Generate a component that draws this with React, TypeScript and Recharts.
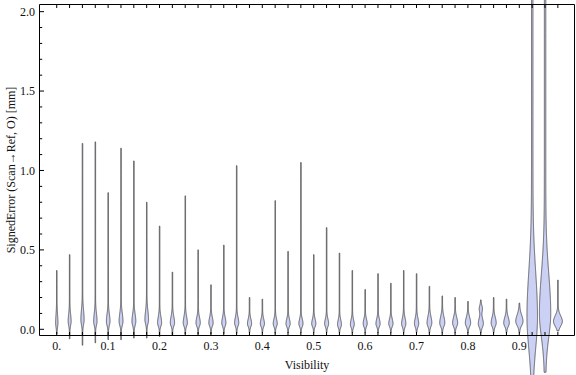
import { ComposedChart, Bar, XAxis, YAxis } from 'recharts';

// one violin per visibility bin
const visibility = [
  0, 0.025, 0.05, 0.075, 0.1, 0.125, 0.15, 0.175, 0.2, 0.225,
  0.25, 0.275, 0.3, 0.325, 0.35, 0.375, 0.4, 0.425, 0.45, 0.475,
  0.5, 0.525, 0.55, 0.575, 0.6, 0.625, 0.65, 0.675, 0.7, 0.725,
  0.75, 0.775, 0.8, 0.825, 0.85, 0.875, 0.9, 0.925, 0.95, 0.975,
];

const errMax = [
  0.37, 0.47, 1.17, 1.18, 0.86, 1.14, 1.06, 0.8, 0.65, 0.36,
  0.84, 0.5, 0.28, 0.53, 1.03, 0.2, 0.19, 0.81, 0.49, 1.05,
  0.47, 0.64, 0.48, 0.37, 0.25, 0.35, 0.29, 0.37, 0.35, 0.27,
  0.21, 0.2, 0.175, 0.185, 0.2, 0.19, 0.165, 2.6, 2.6, 0.31,
];

const errMin = [
  -0.03, -0.06, -0.1, -0.085, -0.065, -0.065, -0.055, -0.055, -0.045, -0.035,
  -0.03, -0.03, -0.03, -0.025, -0.025, -0.02, -0.02, -0.025, -0.02, -0.02,
  -0.02, -0.02, -0.02, -0.02, -0.02, -0.02, -0.02, -0.02, -0.02, -0.02,
  -0.02, -0.02, -0.02, -0.02, -0.02, -0.02, -0.02, -0.62, -0.27, -0.01,
];

// main density peak: where, how dense, spread above / below
const peakAt = [
  0.04, 0.05, 0.06, 0.05, 0.05, 0.05, 0.05, 0.06, 0.04, 0.04,
  0.04, 0.04, 0.04, 0.04, 0.04, 0.035, 0.035, 0.035, 0.035, 0.035,
  0.035, 0.035, 0.03, 0.03, 0.035, 0.035, 0.035, 0.035, 0.035, 0.04,
  0.04, 0.04, 0.04, 0.035, 0.04, 0.04, 0.05, 0.08, 0.1, 0.05,
];

const peakDensity = [
  0.14, 0.19, 0.21, 0.22, 0.24, 0.26, 0.26, 0.24, 0.27, 0.29,
  0.28, 0.29, 0.29, 0.28, 0.28, 0.28, 0.28, 0.27, 0.28, 0.28,
  0.28, 0.27, 0.26, 0.26, 0.27, 0.28, 0.29, 0.29, 0.29, 0.33,
  0.35, 0.35, 0.37, 0.35, 0.35, 0.39, 0.52, 0.7, 0.76, 0.64,
];

const spreadUp = [
  0.05, 0.045, 0.06, 0.05, 0.045, 0.05, 0.045, 0.055, 0.04, 0.04,
  0.04, 0.035, 0.035, 0.035, 0.035, 0.03, 0.03, 0.03, 0.03, 0.03,
  0.03, 0.03, 0.03, 0.03, 0.03, 0.03, 0.03, 0.035, 0.035, 0.04,
  0.04, 0.035, 0.035, 0.035, 0.035, 0.035, 0.04, 0.28, 0.25, 0.035,
];

const spreadDown = [
  0.025, 0.025, 0.03, 0.025, 0.025, 0.025, 0.025, 0.025, 0.02, 0.02,
  0.02, 0.02, 0.02, 0.02, 0.02, 0.018, 0.018, 0.018, 0.018, 0.018,
  0.018, 0.018, 0.018, 0.018, 0.018, 0.018, 0.018, 0.02, 0.02, 0.022,
  0.022, 0.022, 0.022, 0.022, 0.022, 0.022, 0.026, 0.2, 0.15, 0.03,
];

const tailDensity = [
  0.04, 0.04, 0.04, 0.04, 0.04, 0.04, 0.04, 0.04, 0.04, 0.04,
  0.04, 0.04, 0.04, 0.04, 0.04, 0.04, 0.04, 0.04, 0.04, 0.04,
  0.04, 0.04, 0.04, 0.04, 0.04, 0.04, 0.04, 0.04, 0.04, 0.04,
  0.04, 0.04, 0.04, 0.04, 0.04, 0.04, 0.04, 0.11, 0.11, 0.04,
];

// small second bump (only the 0.825 bin has one)
const peak2At = [
  0, 0, 0, 0, 0, 0, 0, 0, 0, 0,
  0, 0, 0, 0, 0, 0, 0, 0, 0, 0,
  0, 0, 0, 0, 0, 0, 0, 0, 0, 0,
  0, 0, 0, 0.13, 0, 0, 0, 0, 0, 0,
];
const peak2Density = [
  0, 0, 0, 0, 0, 0, 0, 0, 0, 0,
  0, 0, 0, 0, 0, 0, 0, 0, 0, 0,
  0, 0, 0, 0, 0, 0, 0, 0, 0, 0,
  0, 0, 0, 0.2, 0, 0, 0, 0, 0, 0,
];

const yTicks = [
  0, 0.1, 0.2, 0.3, 0.4, 0.5, 0.6, 0.7, 0.8, 0.9, 1,
  1.1, 1.2, 1.3, 1.4, 1.5, 1.6, 1.7, 1.8, 1.9, 2,
];

const Y_DOMAIN: [number, number] = [-0.039, 2.045];
const X_DOMAIN: [number, number] = [-0.0335, 1.0074];

const FONT = '"Liberation Serif", "DejaVu Serif", serif';
const TXT = { fontFamily: FONT, fontSize: 12 };
const TM = 4;

const rows = visibility.map((v, i) => ({
  v,
  range: [Math.max(errMin[i], Y_DOMAIN[0]), Math.min(errMax[i], Y_DOMAIN[1])],
  lo: errMin[i],
  hi: errMax[i],
  mode: peakAt[i],
  peak: peakDensity[i],
  sUp: spreadUp[i],
  sDn: spreadDown[i],
  tail: tailDensity[i],
  mode2: peak2At[i],
  peak2: peak2Density[i],
}));

function density(p: any, val: number) {
  const s = val > p.mode ? p.sUp : p.sDn;
  let d = p.tail + p.peak * Math.exp(-0.5 * ((val - p.mode) / s) ** 2);
  if (p.peak2 > 0) d += p.peak2 * Math.exp(-0.5 * ((val - p.mode2) / 0.02) ** 2);
  return d;
}

function Violin(props: any) {
  const { x, y, width, height, payload } = props;
  if (!payload || !height) return null;
  const [a, b] = payload.range;
  const k = height / (b - a);
  const py = (val: number) => y + (b - val) * k;
  const cx = x + width / 2;
  const half = width / 2;
  const n = Math.ceil((payload.hi - payload.lo) / 0.004);
  const left: string[] = [];
  const right: string[] = [];
  for (let j = 0; j <= n; j++) {
    const val = payload.hi - ((payload.hi - payload.lo) * j) / n;
    const w = half * density(payload, val);
    const yy = py(val).toFixed(2);
    left.push(`${(cx - w).toFixed(2)},${yy}`);
    right.unshift(`${(cx + w).toFixed(2)},${yy}`);
  }
  const d = 'M' + left.join('L') + 'L' + right.join('L') + 'Z';
  return <path d={d} fill="#cbd0f5" stroke="#555" strokeWidth={0.9} />;
}

function LeftTick({ x, y, payload }: any) {
  const ax = x + TM;
  const v = payload.value;
  const major = Math.abs(v * 2 - Math.round(v * 2)) < 1e-6;
  return (
    <g>
      <line x1={ax} x2={ax + (major ? 4.5 : 2.7)} y1={y} y2={y} stroke="#000" />
      {major && (
        <text x={ax - 4.5} y={y} dy="0.35em" textAnchor="end" style={TXT} fill="#111">
          {v.toFixed(1)}
        </text>
      )}
    </g>
  );
}

function RightTick({ x, y, payload }: any) {
  const ax = x - TM;
  const v = payload.value;
  const major = Math.abs(v * 2 - Math.round(v * 2)) < 1e-6;
  return <line x1={ax} x2={ax - (major ? 4.5 : 2.7)} y1={y} y2={y} stroke="#000" />;
}

function BottomTick({ x, y, payload }: any) {
  const ay = y - TM;
  const v = payload.value;
  const labelled = Math.round(v * 40) % 4 === 0;
  return (
    <g>
      <line x1={x} x2={x} y1={ay} y2={ay - 3.5} stroke="#000" />
      {labelled && (
        <text x={x} y={ay + 14.5} textAnchor="middle" style={TXT} fill="#111">
          {v === 0 ? '0.' : v.toFixed(1)}
        </text>
      )}
    </g>
  );
}

function TopTick({ x, y }: any) {
  const ay = y + TM;
  return <line x1={x} x2={x} y1={ay} y2={ay + 3.5} stroke="#000" />;
}

function XTitle({ viewBox }: any) {
  return (
    <text x={viewBox.x + viewBox.width / 2} y={viewBox.y + 33.5} textAnchor="middle" style={TXT} fill="#111">
      Visibility
    </text>
  );
}

function YTitle({ viewBox }: any) {
  const cx = viewBox.x + 11;
  const cy = viewBox.y + viewBox.height / 2;
  return (
    <text x={cx} y={cy} transform={`rotate(-90 ${cx} ${cy})`} textAnchor="middle" dominantBaseline="central" style={TXT} fill="#111">
      SignedError (Scan→Ref, O) [mm]
    </text>
  );
}

export default function App() {
  return (
    <div style={{ width: 576, height: 375 }}>
      <style>{'body{margin:0;background:#fff}'}</style>
      <ComposedChart
        width={576}
        height={375}
        data={rows}
        margin={{ top: 3.5, right: 0.5, bottom: 0, left: 0 }}
        barCategoryGap={0}
        barGap={0}
      >
        <XAxis
          xAxisId="b"
          dataKey="v"
          type="number"
          domain={X_DOMAIN}
          ticks={visibility}
          interval={0}
          height={39.5}
          tickSize={0}
          tickMargin={TM}
          tickLine={false}
          axisLine={{ stroke: '#000' }}
          tick={<BottomTick />}
          label={(p: any) => <XTitle {...p} />}
        />
        <XAxis
          xAxisId="t"
          orientation="top"
          dataKey="v"
          type="number"
          domain={X_DOMAIN}
          ticks={visibility}
          interval={0}
          height={1}
          tickSize={0}
          tickMargin={TM}
          tickLine={false}
          axisLine={{ stroke: '#000' }}
          tick={<TopTick />}
        />
        <YAxis
          yAxisId="l"
          type="number"
          domain={Y_DOMAIN}
          ticks={yTicks}
          interval={0}
          width={39.5}
          tickSize={0}
          tickMargin={TM}
          tickLine={false}
          axisLine={{ stroke: '#000' }}
          tick={<LeftTick />}
          label={(p: any) => <YTitle {...p} />}
        />
        <YAxis
          yAxisId="r"
          orientation="right"
          type="number"
          domain={Y_DOMAIN}
          ticks={yTicks}
          interval={0}
          width={1}
          tickSize={0}
          tickMargin={TM}
          tickLine={false}
          axisLine={{ stroke: '#000' }}
          tick={<RightTick />}
        />
        <Bar
          xAxisId="b"
          yAxisId="l"
          dataKey="range"
          shape={<Violin />}
          isAnimationActive={false}
        />
      </ComposedChart>
    </div>
  );
}
